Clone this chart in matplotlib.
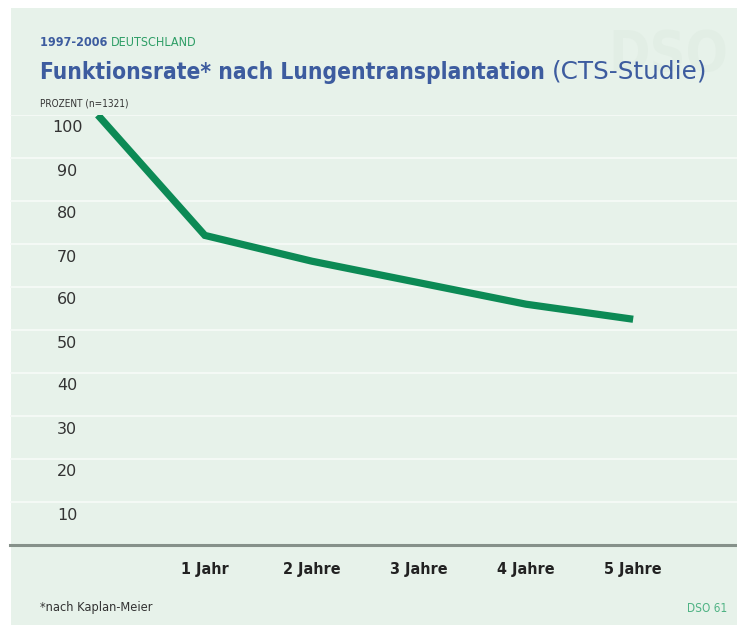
import matplotlib
matplotlib.use("Agg")
import matplotlib.pyplot as plt
from matplotlib.patches import Rectangle
from matplotlib.transforms import blended_transform_factory, offset_copy

# Data
years = [0, 1, 2, 3, 4, 5]
rate = [100, 72, 66, 61, 56, 52.5]
xtick_pos = [1, 2, 3, 4, 5]
xtick_labels = ["1 Jahr", "2 Jahre", "3 Jahre", "4 Jahre", "5 Jahre"]
ytick_vals = [10, 20, 30, 40, 50, 60, 70, 80, 90, 100]

BG = "#e7f2ea"
GREEN = "#0c8a55"
BLUE = "#3d5c9f"
TXT = "#333333"

plt.rcParams["font.family"] = ["DejaVu Sans"]
plt.rcParams["font.stretch"] = "condensed"

W, H = 737, 625
fig = plt.figure(figsize=(W / 100, H / 100), dpi=100)
fig.patch.set_facecolor("white")
fig.patches.append(Rectangle((11 / W, 0), 1 - 11 / W, 1 - 8 / H, transform=fig.transFigure,
                             facecolor=BG, edgecolor="none", zorder=-10))

# faint watermark
fig.text(668 / W, 1 - 55 / H, "DSO", fontsize=40, fontweight="bold", color="#e2eee5",
         ha="center", va="center", zorder=-5)

ax = fig.add_axes([10 / W, 1 - 545 / H, 1 - 10 / W, (545 - 115) / H])
ax.set_facecolor("none")
ax.plot(years, rate, color=GREEN, lw=5.2, solid_capstyle="butt", solid_joinstyle="miter", zorder=3)

ax.set_xlim(-0.82, 5.97)
ax.set_ylim(0, 100)
ax.set_yticks(ytick_vals)
ax.yaxis.grid(True, color="#f7fbf8", lw=1.2)
ax.set_axisbelow(True)
ax.tick_params(axis="y", length=0, labelleft=False)
ax.set_xticks(xtick_pos, xtick_labels)
ax.tick_params(axis="x", length=0, pad=12, labelsize=11.5, labelcolor="#222222")
for lbl in ax.get_xticklabels():
    lbl.set_fontweight("bold")
for s in ["top", "left", "right"]:
    ax.spines[s].set_visible(False)
ax.spines["bottom"].set_color("#86918a")
ax.spines["bottom"].set_linewidth(2.2)

# y labels sit just under their gridline
trans = offset_copy(blended_transform_factory(ax.transAxes, ax.transData), fig=fig, y=-13, units="dots")
for v in ytick_vals:
    ax.text(57 / (W - 10), v, str(v), transform=trans, ha="center", va="center",
            fontsize=11.5, color=TXT, fontstretch="normal")

# header
t1 = fig.text(40 / W, 1 - 42 / H, "1997-2006 ", fontsize=9, fontweight="bold", color=BLUE,
              ha="left", va="center")
fig.canvas.draw()
bb = t1.get_window_extent()
fig.text(bb.x1 / W, 1 - 42 / H, "DEUTSCHLAND", fontsize=9, color="#2e9e66", ha="left", va="center")

t2 = fig.text(40 / W, 1 - 72 / H, "Funktionsrate* nach Lungentransplantation", fontsize=16.3,
              fontweight="bold", color=BLUE, ha="left", va="center")
fig.canvas.draw()
bb = t2.get_window_extent()
fig.text((bb.x1 + 7) / W, 1 - 72 / H, "(CTS-Studie)", fontsize=17.8, color=BLUE, ha="left",
         va="center", fontstretch="normal")

fig.text(40 / W, 1 - 103 / H, "PROZENT (n=1321)", fontsize=7.2, color=TXT, ha="left", va="center")

# footer
fig.text(40 / W, 1 - 608 / H, "*nach Kaplan-Meier", fontsize=9.2, color=TXT, ha="left", va="center")
fig.text(727 / W, 1 - 608 / H, "DSO 61", fontsize=8.5, color="#4fb384", ha="right", va="center")

fig.savefig("out.png", dpi=100, facecolor=fig.get_facecolor())
